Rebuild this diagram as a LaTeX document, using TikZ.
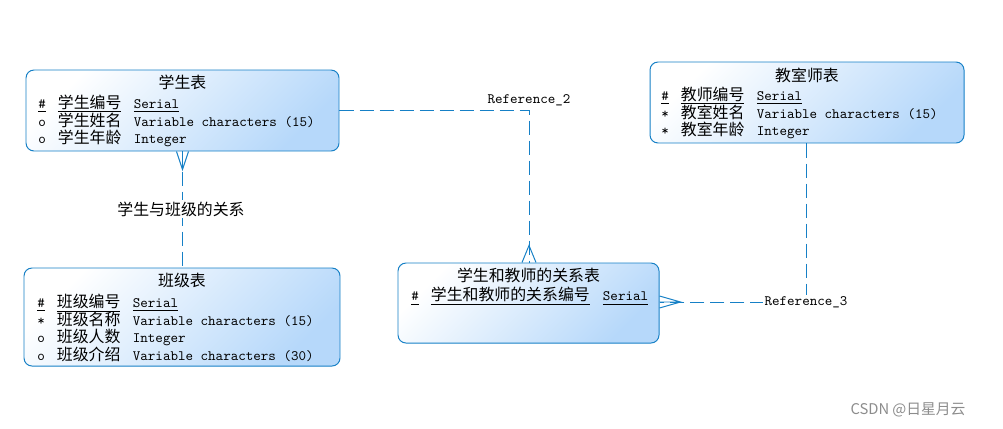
\documentclass[tikz,border=0pt]{standalone}
\usepackage{fontspec}
\setmainfont{Noto Sans CJK SC}
\usetikzlibrary{calc}
\usetikzlibrary{fit}
\usetikzlibrary{positioning}
\definecolor{erline}{RGB}{22,128,198}
\definecolor{erfill}{RGB}{182,216,250}
\newcommand*{\tx}[1]{{\ttfamily\fontsize{10.2}{12.6}\selectfont #1}}
\newcommand*{\keyul}[1]{\underline{#1\vphantom{学}}}
\newcommand*{\attr}[4][1.9cm]{\makebox[0.49cm][l]{\tx{#2}}\makebox[#1][l]{#3}\tx{#4}}
\newcommand*{\keyattr}[4][1.9cm]{\makebox[0.49cm][l]{\keyul{\tx{#2}}}\makebox[#1][l]{\keyul{#3}}\keyul{\tx{#4}}}
\tikzset{
    tbl/.style = {draw=erline,line width=0.7pt,rounded corners=0.2cm,inner sep=0,
        top color=white,bottom color=erfill,shading angle=45},
    ttl/.style = {inner sep=0,font=\fontsize{11.3}{12.6}\selectfont},
    attrs/.style = {anchor=west,inner sep=0,align=left,font=\fontsize{11.3}{12.6}\selectfont},
    lbl/.style = {inner sep=1pt,fill=white,font=\fontsize{11.3}{12.6}\selectfont}
}
\tikzset{
    rel/.style = {draw=erline,line width=0.7pt,dash pattern=on 0.35cm off 0.15cm},
    foot/.style = {draw=erline,line width=0.7pt}
}
\begin{document}
\begin{tikzpicture}[x=0.025cm,y=-0.025cm]
        \useasboundingbox (0,0) rectangle (1003,428);
        % Tables
        \node[tbl,fit={(26,70) (339,151)}] (stu) {};
        \node[tbl,fit={(24,268) (340,366)}] (cls) {};
        \node[tbl,fit={(398,263) (659,343)}] (rls) {};
        \node[tbl,fit={(650,62) (964,143)}] (teach) {};
        % Titles
        \node[ttl] (stutitle) at (182.5,82) {学生表};
        \node[ttl] (clstitle) at (182,280) {班级表};
        \node[ttl] (rlstitle) at (528.5,275) {学生和教师的关系表};
        \node[ttl] (teachtitle) at (807,75) {教室师表};
        % Attributes
        \node[attrs] (stuattrs) at (38,121) {
            \keyattr{\#}{学生编号}{Serial}\\
            \attr{o}{学生姓名}{Variable characters (15)}\\
            \attr{o}{学生年龄}{Integer}};
        \node[attrs] (clsattrs) at (37,328) {
            \keyattr{\#}{班级编号}{Serial}\\
            \attr{*}{班级名称}{Variable characters (15)}\\
            \attr{o}{班级人数}{Integer}\\
            \attr{o}{班级介绍}{Variable characters (30)}};
        \node[attrs] (rlsattrs) at (411,296) {
            \keyattr[4.3cm]{\#}{学生和教师的关系编号}{Serial}};
        \node[attrs] (teachattrs) at (661,113) {
            \keyattr{\#}{教师编号}{Serial}\\
            \attr{*}{教室姓名}{Variable characters (15)}\\
            \attr{*}{教室年龄}{Integer}};
        % Corners
        \path (529,110) coordinate (rtwo)
            (806,302) coordinate (rthree)
        ;
        % References
        \draw[rel] (stu.south) -- (stu.south |- cls.north);
        \draw[rel] (stu.east |- rtwo) -- (rtwo) -- (rtwo |- rls.north);
        \draw[rel] (rthree |- teach.south) -- (rthree) -- (rls.east |- rthree);
        % Crow's feet
        \draw[foot] ($(stu.south)+(-6,0)$) -- ($(stu.south)+(0,18)$) -- ($(stu.south)+(6,0)$)
            (stu.south) -- ($(stu.south)+(0,18)$);
        \draw[foot] ($(rtwo |- rls.north)+(-7,0)$) -- ($(rtwo |- rls.north)+(0,-17)$)
            -- ($(rtwo |- rls.north)+(7,0)$);
        \draw[foot] ($(rls.east |- rthree)+(0,-6)$) -- ($(rls.east |- rthree)+(21,0)$)
            -- ($(rls.east |- rthree)+(0,6)$) (rls.east |- rthree) -- ($(rls.east |- rthree)+(21,0)$);
        % Labels
        \node[lbl] (clsrel) at (181,209) {学生与班级的关系};
        \node[lbl,fill=none] (rtwolabel) at (529,100) {\tx{Reference\_2}};
        \node[lbl] (rthreelabel) at (806,302) {\tx{Reference\_3}};
        \node[font=\fontsize{10.5}{12}\selectfont,text=black!45] (csdn) at (908,410) {CSDN @日星月云};
    \end{tikzpicture}
\end{document}
